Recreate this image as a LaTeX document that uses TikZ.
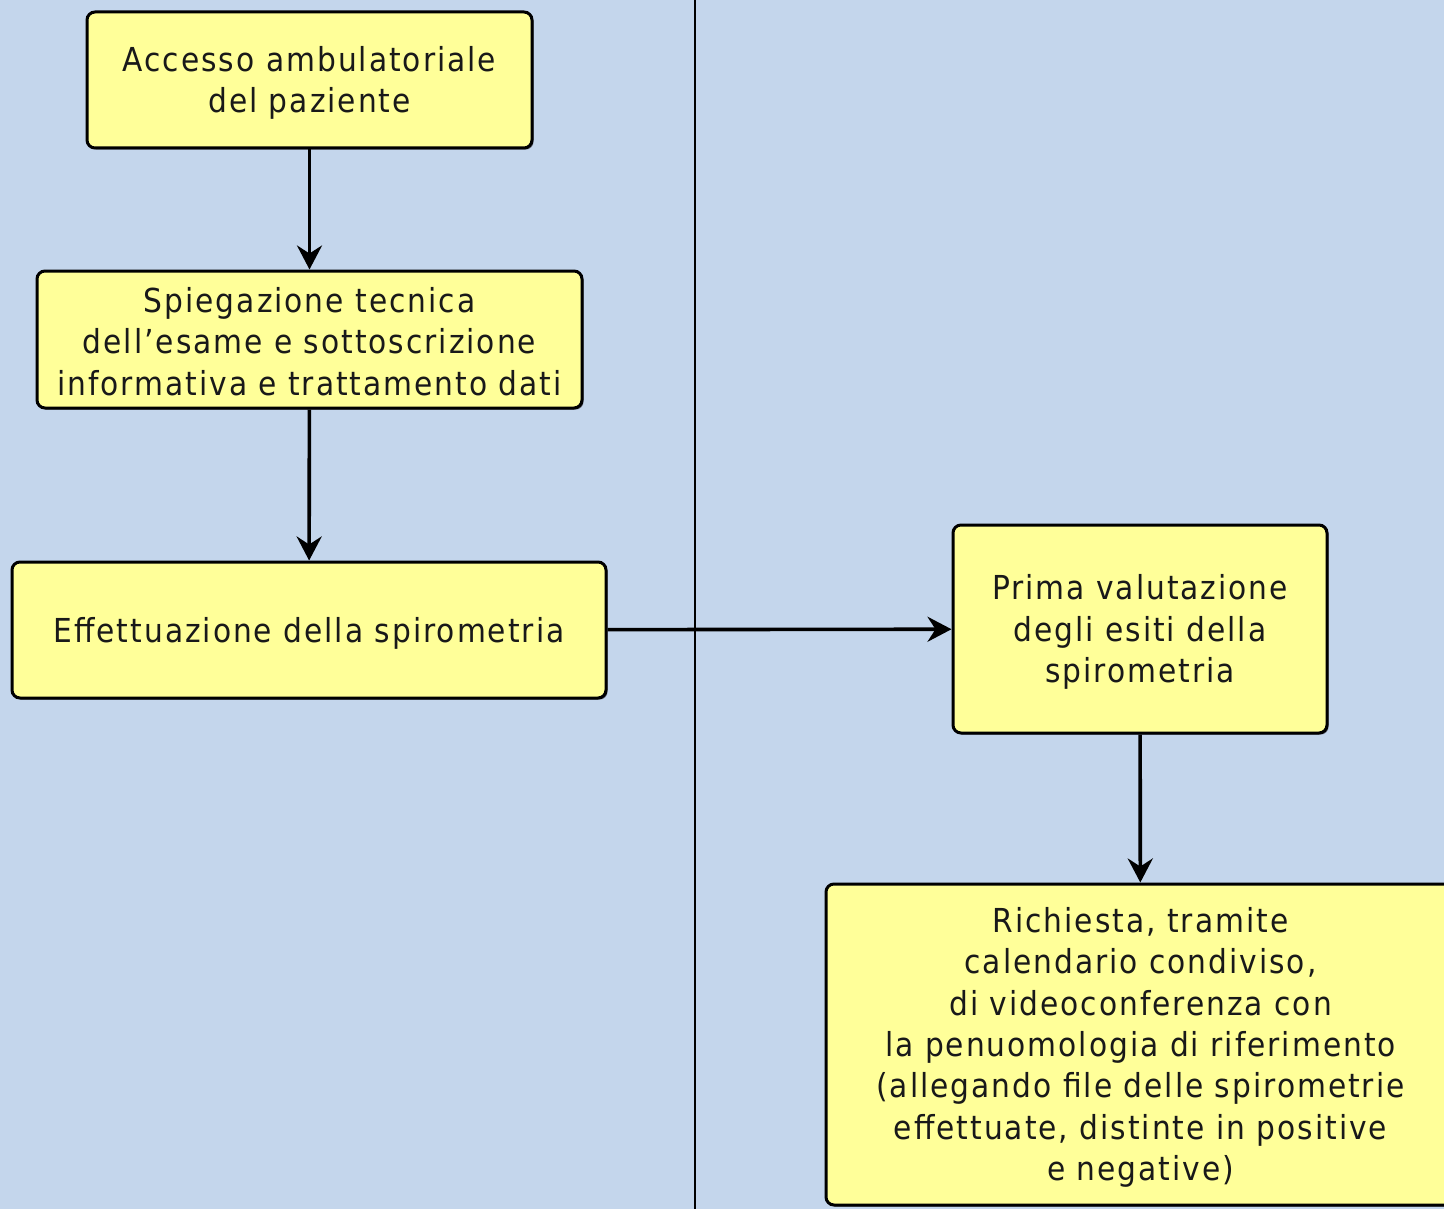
\documentclass[tikz,border=0pt]{standalone}
\usepackage{fontspec}
\setmainfont{DejaVu Sans}[FakeStretch=0.9, LetterSpace=6]
\usetikzlibrary{arrows.meta,shadows}
\definecolor{bgblue}{HTML}{C4D6EC}
\definecolor{boxyellow}{HTML}{FFFF99}
\definecolor{shadowgray}{HTML}{6A7080}
\newcommand{\topstrut}{\rule{0pt}{15.5pt}}
\tikzset{
  stepbox/.style={draw=black, line width=1.5pt, fill=boxyellow, rounded corners=4pt,
    align=center, inner sep=0pt, text=black!90,
    font=\fontsize{16.5}{20.7}\selectfont,
    drop shadow={shadow xshift=0.8pt, shadow yshift=-0.8pt, fill=shadowgray, opacity=1}},
  flow/.style={line width=1.8pt, -{Stealth[length=12pt,width=12.5pt,inset=4pt]}}
}
\begin{document}
\begin{tikzpicture}[x=0.5pt,y=-0.5pt]
\useasboundingbox (0,0) rectangle (1444,1209);
\clip (0,0) rectangle (1444,1209);
\fill[bgblue] (0,0) rectangle (1444,1209);
\coordinate (laneTop) at (695,0);
\coordinate (laneBot) at (695,1209);
\draw[line width=1.1pt] (laneTop) -- (laneBot);

\node[stepbox, minimum width=222.5pt, minimum height=68pt] (a) at (309.5,80)
  {\topstrut Accesso ambulatoriale\\del paziente};
\node[stepbox, minimum width=272.5pt, minimum height=68.5pt] (b) at (309.5,339.5)
  {\rule{0pt}{14.5pt}Spiegazione tecnica\\dell’esame e sottoscrizione\\informativa e trattamento dati};
\node[stepbox, minimum width=297pt, minimum height=68pt] (c) at (309,630)
  {\topstrut Effettuazione della spirometria};
\node[stepbox, minimum width=187pt, minimum height=104pt] (d) at (1140,629)
  {\topstrut Prima valutazione\\degli esiti della\\spirometria};
\node[stepbox, minimum width=314.5pt, minimum height=160.5pt] (e) at (1140.5,1044.5)
  {\topstrut Richiesta, tramite\\calendario condiviso,\\di videoconferenza con\\la penuomologia di riferimento\\(allegando file delle spirometrie\\effettuate, distinte in positive\\e negative)};

\draw[flow] (a) -- (b);
\draw[flow] (b) -- (c);
\draw[flow] (c) -- (d);
\draw[flow] (d) -- (e);
\end{tikzpicture}
\end{document}
